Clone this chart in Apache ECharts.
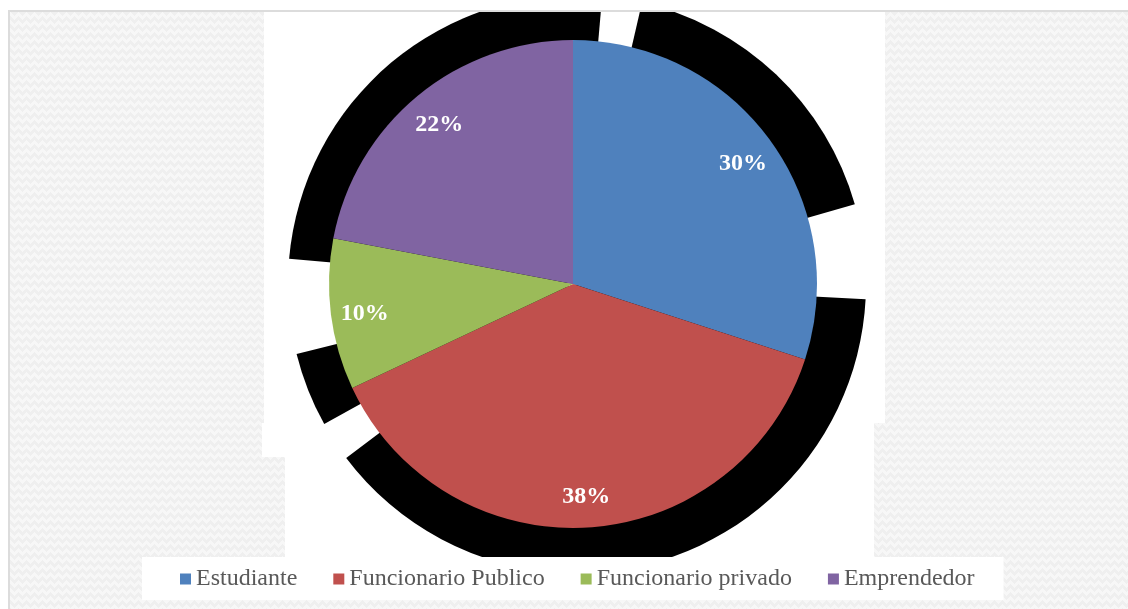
<!DOCTYPE html>
<html>
<head>
<meta charset="utf-8">
<script src="https://cdn.jsdelivr.net/npm/echarts@6/dist/echarts.min.js"></script>
<style>
  html, body { margin: 0; padding: 0; background: #ffffff; }
  body { width: 1128px; height: 609px; position: relative; overflow: hidden; }
  /* Framed, lightly textured page panel */
  #frame {
    position: absolute; left: 8px; top: 10px; right: 0; bottom: 0;
    border-top: 2px solid #dcdcdc; border-left: 2px solid #dcdcdc;
    background-color: #f7f7f7;
    background-image:
      linear-gradient(135deg, #efefef 25%, transparent 25%),
      linear-gradient(225deg, #efefef 25%, transparent 25%),
      linear-gradient(315deg, #efefef 25%, transparent 25%),
      linear-gradient(45deg, #efefef 25%, transparent 25%);
    background-position: -4px 0, -4px 0, 0 0, 0 0;
    background-size: 8px 8px;
  }
  #chart { position: absolute; left: 10px; top: 12px; width: 1118px; height: 597px; }
</style>
</head>
<body>
<div id="frame"></div>
<div id="chart"></div>
<script>
// Distribución por ocupación
const categories = ['Estudiante', 'Funcionario Publico', 'Funcionario privado', 'Emprendedor'];
const shares = [30, 38, 10, 22];

const sliceColors = ['#4f81bd', '#c0504d', '#9bbb59', '#8064a2'];
const serif = "'Liberation Serif', 'Times New Roman', 'DejaVu Serif', serif";

const chart = echarts.init(document.getElementById('chart'), null, { renderer: 'canvas' });

const pieCenter = [563, 272];
const pieRadius = 244;

// Dark halo pieces around the pie (angular spans clockwise from the top, in degrees)
const haloSpans = [
  { span: 8, dark: false },
  { span: 61, dark: true },
  { span: 19, dark: false },
  { span: 140, dark: true },
  { span: 8, dark: false },
  { span: 15, dark: true },
  { span: 19, dark: false },
  { span: 90, dark: true }
];

const pieData = categories.map((name, i) => ({
  name: name,
  value: shares[i],
  itemStyle: { color: sliceColors[i] }
}));

const option = {
  animation: false,
  backgroundColor: 'transparent',
  graphic: [
    { type: 'rect', z: 0, silent: true, shape: { x: 254, y: 0, width: 621, height: 411 }, style: { fill: '#ffffff' } },
    { type: 'rect', z: 0, silent: true, shape: { x: 252, y: 411, width: 612, height: 34 }, style: { fill: '#ffffff' } },
    { type: 'rect', z: 0, silent: true, shape: { x: 275, y: 445, width: 589, height: 100 }, style: { fill: '#ffffff' } }
  ],
  legend: {
    data: categories,
    left: 132,
    top: 545,
    padding: [10, 29, 9, 38],
    backgroundColor: '#ffffff',
    icon: 'rect',
    itemWidth: 11,
    itemHeight: 11,
    itemGap: 36,
    selectedMode: false,
    textStyle: { fontFamily: serif, fontSize: 24, color: '#595959' }
  },
  series: [
    {
      type: 'pie',
      name: 'halo',
      z: 1,
      silent: true,
      center: [pieCenter[0] + 4, pieCenter[1]],
      radius: 289,
      startAngle: 85,
      clockwise: true,
      label: { show: false },
      labelLine: { show: false },
      emphasis: { disabled: true },
      data: haloSpans.map((h, i) => ({
        name: 'h' + i,
        value: h.span,
        itemStyle: { color: h.dark ? '#000000' : 'rgba(0,0,0,0)' }
      }))
    },
    {
      type: 'pie',
      name: 'Ocupación',
      z: 2,
      center: pieCenter,
      radius: pieRadius,
      startAngle: 90,
      clockwise: true,
      label: { show: false },
      labelLine: { show: false },
      emphasis: { disabled: true },
      data: pieData
    },
    {
      type: 'pie',
      name: 'Ocupación %',
      z: 3,
      silent: true,
      center: [pieCenter[0], pieCenter[1] + 3],
      radius: [170, pieRadius],
      startAngle: 90,
      clockwise: true,
      avoidLabelOverlap: false,
      itemStyle: { color: 'rgba(0,0,0,0)' },
      label: {
        show: true,
        position: 'inside',
        formatter: p => p.value + '%',
        fontFamily: serif,
        fontWeight: 'bold',
        fontSize: 24,
        color: '#ffffff'
      },
      labelLine: { show: false },
      emphasis: { disabled: true },
      data: categories.map((name, i) => ({ name: name, value: shares[i] }))
    }
  ]
};

chart.setOption(option);
</script>
</body>
</html>
